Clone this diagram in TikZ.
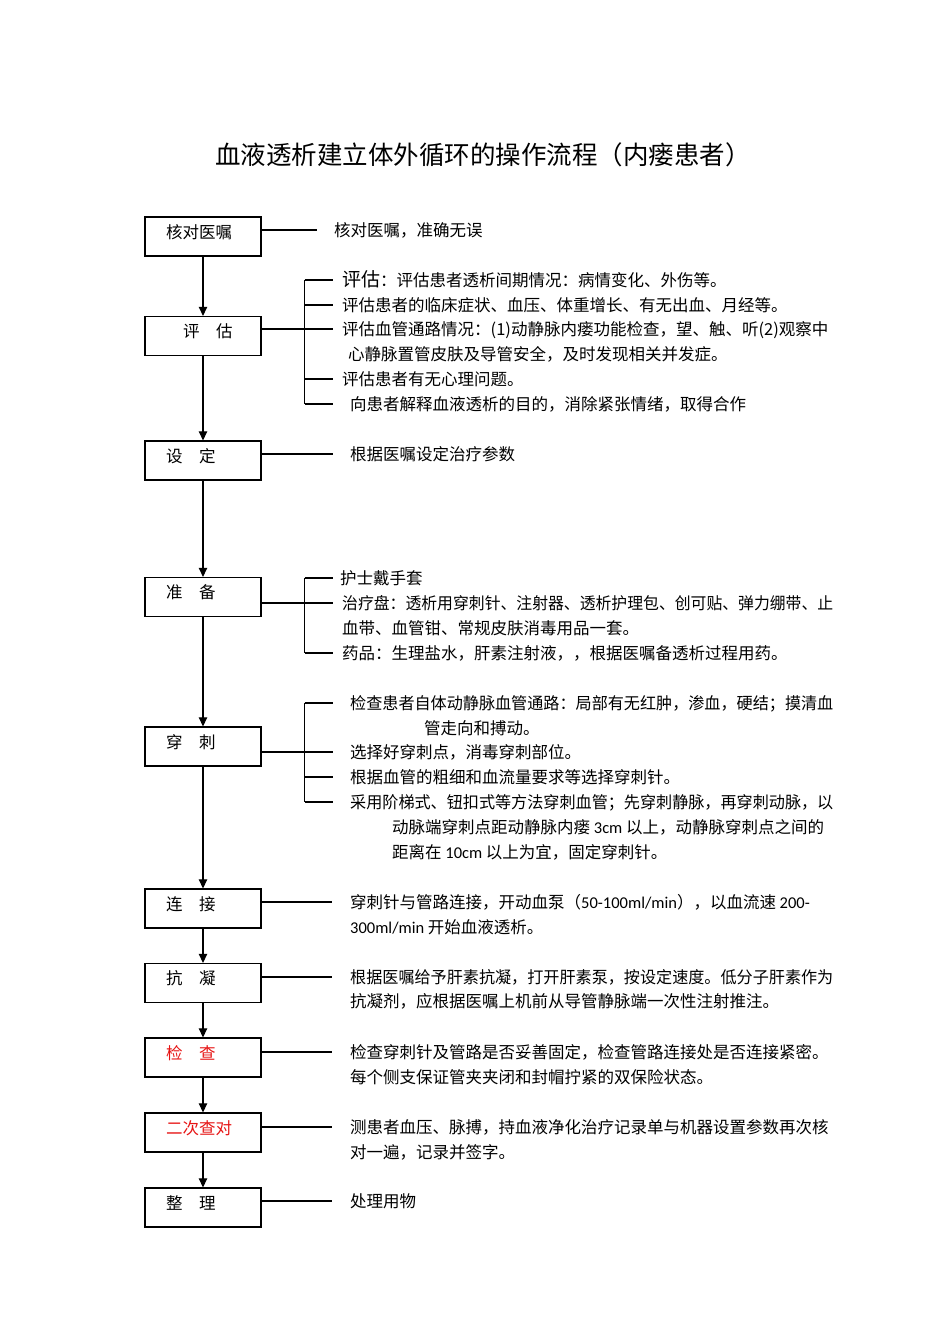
\documentclass[tikz,border=0pt]{standalone}
\usepackage{fontspec}
\usepackage{graphicx}
\setmainfont{Noto Sans CJK SC}
\newfontfamily\lat{Carlito}
\usetikzlibrary{arrows.meta,calc,positioning}
\definecolor{alert}{RGB}{230,20,20}
\newcommand\squeeze[2]{\scalebox{#1}[1]{#2}}

\begin{document}
\begin{tikzpicture}[
    x=1pt, y=-1pt,
    font=\fontsize{16.5pt}{25pt}\selectfont,
    stage/.style={rectangle, draw=black, line width=1.3pt,
      text width=74pt, align=left, inner xsep=21pt, inner ysep=11.3pt,
      text height=10pt, text depth=6.4pt},
    note/.style={anchor=west, inner sep=0pt, text height=14.5pt, text depth=2pt},
    tie/.style={black, line width=1.1pt},
    flow/.style={black, line width=1.1pt, -{Triangle[length=9pt,width=8.5pt]}}
  ]
  \useasboundingbox (0,0) rectangle (950,1344);

  \node (title) at (483,155) {\fontsize{25.5pt}{30pt}\selectfont 血液透析建立体外循环的操作流程（内瘘患者）};

  % the stages down the left

  \node (check)   [stage]             at (203,236.5)  {核对医嘱};
  \node (assess)  [stage]             at (203,336)    {\hspace*{17pt}评\hspace{1em}估};
  \node (setup)   [stage]             at (203,460.5)  {设\hspace{1em}定};
  \node (prep)    [stage]             at (203,597)    {准\hspace{1em}备};
  \node (punct)   [stage]             at (203,746.5)  {穿\hspace{1em}刺};
  \node (link)    [stage]             at (203,908.5)  {连\hspace{1em}接};
  \node (anti)    [stage]             at (203,983)    {抗\hspace{1em}凝};
  \node (verify)  [stage, text=alert] at (203,1057.5) {检\hspace{1em}查};
  \node (recheck) [stage, text=alert] at (203,1132.5) {二次查对};
  \node (tidy)    [stage]             at (203,1207.5) {整\hspace{1em}理};

  % the notes on the right

  \node (n1)    [note] at (334,230)  {核对医嘱，准确无误};

  \node (n2a)   [note] at (342,280)  {{\fontsize{19pt}{25pt}\selectfont 评估}：评估患者透析间期情况：病情变化、外伤等。};
  \node (n2b)   [note] at (342,305)  {评估患者的临床症状、血压、体重增长、有无出血、月经等。};
  \node (n2c)   [note] at (342,329)  {评估血管通路情况：(1)动静脉内瘘功能检查，望、触、听(2)观察中};
  \node (n2cc)  [note] at (348,354)  {心静脉置管皮肤及导管安全，及时发现相关并发症。};
  \node (n2d)   [note] at (342,379)  {评估患者有无心理问题。};
  \node (n2e)   [note] at (350,404)  {向患者解释血液透析的目的，消除紧张情绪，取得合作};

  \node (n3)    [note] at (350,454)  {根据医嘱设定治疗参数};

  \node (n4a)   [note] at (340,578)  {护士戴手套};
  \node (n4b)   [note] at (342,603)  {\squeeze{0.96}{治疗盘：透析用穿刺针、注射器、透析护理包、创可贴、弹力绷带、止}};
  \node (n4bb)  [note] at (342,628)  {血带、血管钳、常规皮肤消毒用品一套。};
  \node (n4c)   [note] at (342,653)  {药品：生理盐水，肝素注射液，，根据医嘱备透析过程用药。};

  \node (n5a)   [note] at (350,703)  {\squeeze{0.976}{检查患者自体动静脉血管通路：局部有无红肿，渗血，硬结；摸清血}};
  \node (n5aa)  [note] at (424,728)  {管走向和搏动。};
  \node (n5b)   [note] at (350,752)  {选择好穿刺点，消毒穿刺部位。};
  \node (n5c)   [note] at (350,777)  {根据血管的粗细和血流量要求等选择穿刺针。};
  \node (n5d)   [note] at (350,802)  {\squeeze{0.976}{采用阶梯式、钮扣式等方法穿刺血管；先穿刺静脉，再穿刺动脉，以}};
  \node (n5dd)  [note] at (392,827)  {动脉端穿刺点距动静脉内瘘 {\lat 3cm} 以上，动静脉穿刺点之间的};
  \node (n5ddd) [note] at (392,852)  {距离在 {\lat 10cm} 以上为宜，固定穿刺针。};

  \node (n6)    [note] at (350,902)  {穿刺针与管路连接，开动血泵（{\lat 50-100ml/min}），以血流速 {\lat 200-}};
  \node (n6b)   [note] at (350,927)  {{\lat 300ml/min} 开始血液透析。};

  \node (n7)    [note] at (350,977)  {\squeeze{0.976}{根据医嘱给予肝素抗凝，打开肝素泵，按设定速度。低分子肝素作为}};
  \node (n7b)   [note] at (350,1001) {抗凝剂，应根据医嘱上机前从导管静脉端一次性注射推注。};

  \node (n8)    [note] at (350,1052) {检查穿刺针及管路是否妥善固定，检查管路连接处是否连接紧密。};
  \node (n8b)   [note] at (350,1077) {每个侧支保证管夹夹闭和封帽拧紧的双保险状态。};

  \node (n9)    [note] at (350,1127) {测患者血压、脉搏，持血液净化治疗记录单与机器设置参数再次核};
  \node (n9b)   [note] at (350,1152) {对一遍，记录并签字。};

  \node (n10)   [note] at (350,1201) {处理用物};

  % flow arrows

  \draw[flow] (check)  -- (assess);
  \draw[flow] (assess) -- (setup);
  \draw[flow] (setup)  -- (prep);
  \draw[flow] (prep)   -- (punct);
  \draw[flow] (punct)  -- (link);
  \draw[flow] (link)   -- (anti);
  \draw[flow] (anti)   -- (verify);
  \draw[flow] (verify) -- (recheck);
  \draw[flow] (recheck) -- (tidy);

  % single ties

  \draw[tie] (check.east |- n1)   -- ([xshift=-17pt]n1.west);
  \draw[tie] (setup.east |- n3)   -- ([xshift=-17pt]n3.west);
  \draw[tie] (link.east |- n6)    -- ([xshift=-18pt]n6.west);
  \draw[tie] (anti.east |- n7)    -- ([xshift=-18pt]n7.west);
  \draw[tie] (verify.east |- n8)  -- ([xshift=-18pt]n8.west);
  \draw[tie] (recheck.east |- n9) -- ([xshift=-18pt]n9.west);
  \draw[tie] (tidy.east |- n10)   -- ([xshift=-18pt]n10.west);

  % brackets

  \coordinate (k2) at ([xshift=43pt]assess.east);
  \draw[tie] (assess.east |- n2c) -- (k2 |- n2c);
  \draw[tie] (k2 |- n2a) -- (k2 |- n2e);
  \foreach \t in {n2a,n2b,n2c,n2d,n2e}
    \draw[tie] (k2 |- \t) -- ++(28,0);

  \coordinate (k4) at ([xshift=43pt]prep.east);
  \draw[tie] (prep.east |- n4b) -- (k4 |- n4b);
  \draw[tie] (k4 |- n4a) -- (k4 |- n4c);
  \foreach \t in {n4a,n4b,n4c}
    \draw[tie] (k4 |- \t) -- ++(28,0);

  \coordinate (k5) at ([xshift=43pt]punct.east);
  \draw[tie] (punct.east |- n5b) -- (k5 |- n5b);
  \draw[tie] (k5 |- n5a) -- (k5 |- n5d);
  \foreach \t in {n5a,n5b,n5c,n5d}
    \draw[tie] (k5 |- \t) -- ++(28,0);

\end{tikzpicture}
\end{document}
